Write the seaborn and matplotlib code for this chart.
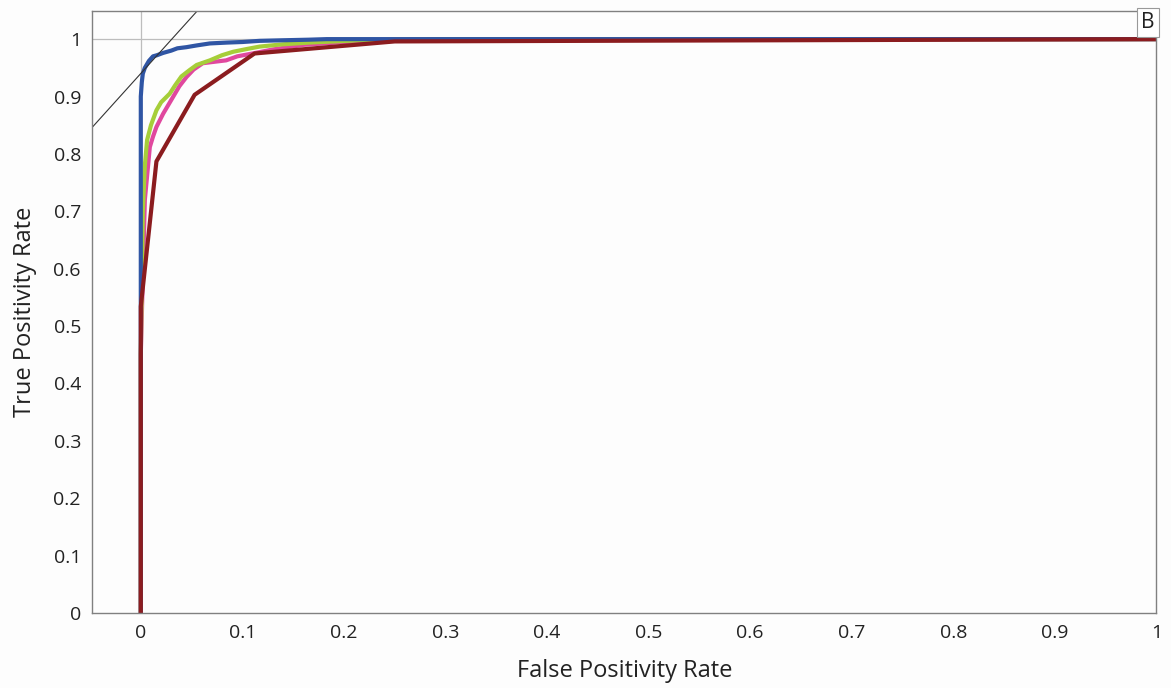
import numpy as np
import pandas as pd
import matplotlib
matplotlib.use("Agg")
import matplotlib.pyplot as plt
import seaborn as sns

# ---- data ----
blue_fpr = [0.0, 0.0, 0.0, 0.001, 0.002, 0.004, 0.008, 0.012, 0.016, 0.022, 0.030, 0.036, 0.045, 0.055, 0.068, 0.085, 0.100, 0.117, 0.140, 0.165, 0.183, 0.25, 0.40, 1.0]
blue_tpr = [0.0, 0.45, 0.90, 0.925, 0.940, 0.950, 0.962, 0.970, 0.972, 0.976, 0.980, 0.984, 0.986, 0.989, 0.9925, 0.994, 0.995, 0.997, 0.998, 0.999, 1.0, 1.0, 1.0, 1.0]

green_fpr = [0.0, 0.0, 0.002, 0.004, 0.0062, 0.010, 0.0154, 0.020, 0.0285, 0.034, 0.040, 0.048, 0.055, 0.068, 0.080, 0.091, 0.105, 0.117, 0.140, 0.166, 0.190, 0.216, 0.30, 1.0]
green_tpr = [0.0, 0.45, 0.70, 0.78, 0.824, 0.850, 0.876, 0.890, 0.905, 0.920, 0.935, 0.946, 0.955, 0.963, 0.972, 0.978, 0.983, 0.987, 0.991, 0.994, 0.996, 0.998, 1.0, 1.0]

pink_fpr = [0.0, 0.0, 0.004, 0.0089, 0.012, 0.0154, 0.022, 0.027, 0.032, 0.038, 0.045, 0.052, 0.061, 0.070, 0.084, 0.095, 0.110, 0.130, 0.160, 0.200, 0.250, 0.32, 1.0]
pink_tpr = [0.0, 0.45, 0.72, 0.812, 0.830, 0.847, 0.870, 0.885, 0.900, 0.918, 0.934, 0.947, 0.958, 0.960, 0.963, 0.970, 0.975, 0.982, 0.990, 0.995, 0.998, 1.0, 1.0]

red_fpr = [0.0, 0.0, 0.0154, 0.053, 0.112, 0.25, 1.0]
red_tpr = [0.0, 0.534, 0.787, 0.903, 0.975, 0.996, 1.0]

tangent_x = [-0.048, 0.055]
tangent_y = [0.846, 1.048]

x_ticks = [0, 0.1, 0.2, 0.3, 0.4, 0.5, 0.6, 0.7, 0.8, 0.9, 1]
y_ticks = [0, 0.1, 0.2, 0.3, 0.4, 0.5, 0.6, 0.7, 0.8, 0.9, 1]

series = {
    "blue": (blue_fpr, blue_tpr),
    "green": (green_fpr, green_tpr),
    "pink": (pink_fpr, pink_tpr),
    "red": (red_fpr, red_tpr),
}
colors = {"blue": "#2F55A4", "green": "#A6CE39", "pink": "#E0489E", "red": "#8B1C1F"}
draw_order = ["pink", "green", "blue", "red"]

rows = []
for name, (xs, ys) in series.items():
    for i, (x, y) in enumerate(zip(xs, ys)):
        rows.append({"model": name, "fpr": x, "tpr": y, "idx": i})
df = pd.DataFrame(rows)

def fmt(v):
    return "0" if v == 0 else ("1" if v == 1 else f"{v:.1f}")

# ---- plotting ----
sns.set_theme(style="white")
plt.rcParams["font.family"] = ["Open Sans", "DejaVu Sans"]

fig = plt.figure(figsize=(11.71, 6.88), dpi=100, facecolor="#FDFDFD")
ax = fig.add_axes([0.0786, 0.109, 0.909, 0.875])
ax.set_facecolor("#FDFDFD")

ax.axhline(1.0, color="#BDBDBD", lw=0.9, zorder=0)
ax.axvline(0.0, color="#BDBDBD", lw=0.9, zorder=0)

for name in draw_order:
    sub = df[df["model"] == name]
    sns.lineplot(data=sub, x="fpr", y="tpr", estimator=None, sort=False,
                 color=colors[name], lw=3.0, ax=ax, legend=False)

sns.lineplot(x=tangent_x, y=tangent_y, estimator=None, sort=False,
             color="#333333", lw=0.8, ax=ax)

ax.set_xlim(-0.048, 1.0)
ax.set_ylim(0, 1.049)
ax.set_xticks(x_ticks)
ax.set_xticklabels([fmt(v) for v in x_ticks])
ax.set_yticks(y_ticks)
ax.set_yticklabels([fmt(v) for v in y_ticks])
ax.tick_params(axis="both", labelsize=14, colors="#222222", length=0, pad=8)
ax.set_xlabel("False Positivity Rate", fontsize=17, color="#222222", labelpad=12)
ax.set_ylabel("True Positivity Rate", fontsize=17, color="#222222", labelpad=12)

for s in ax.spines.values():
    s.set_color("#808080")
    s.set_linewidth(1.0)

ax.text(0.9985, 0.998, "B", transform=ax.transAxes, ha="right", va="top",
        fontsize=15, color="#222222",
        bbox=dict(boxstyle="square,pad=0.2", fc="white", ec="#999999", lw=0.8))

fig.savefig("out.png", dpi=100, facecolor=fig.get_facecolor())
